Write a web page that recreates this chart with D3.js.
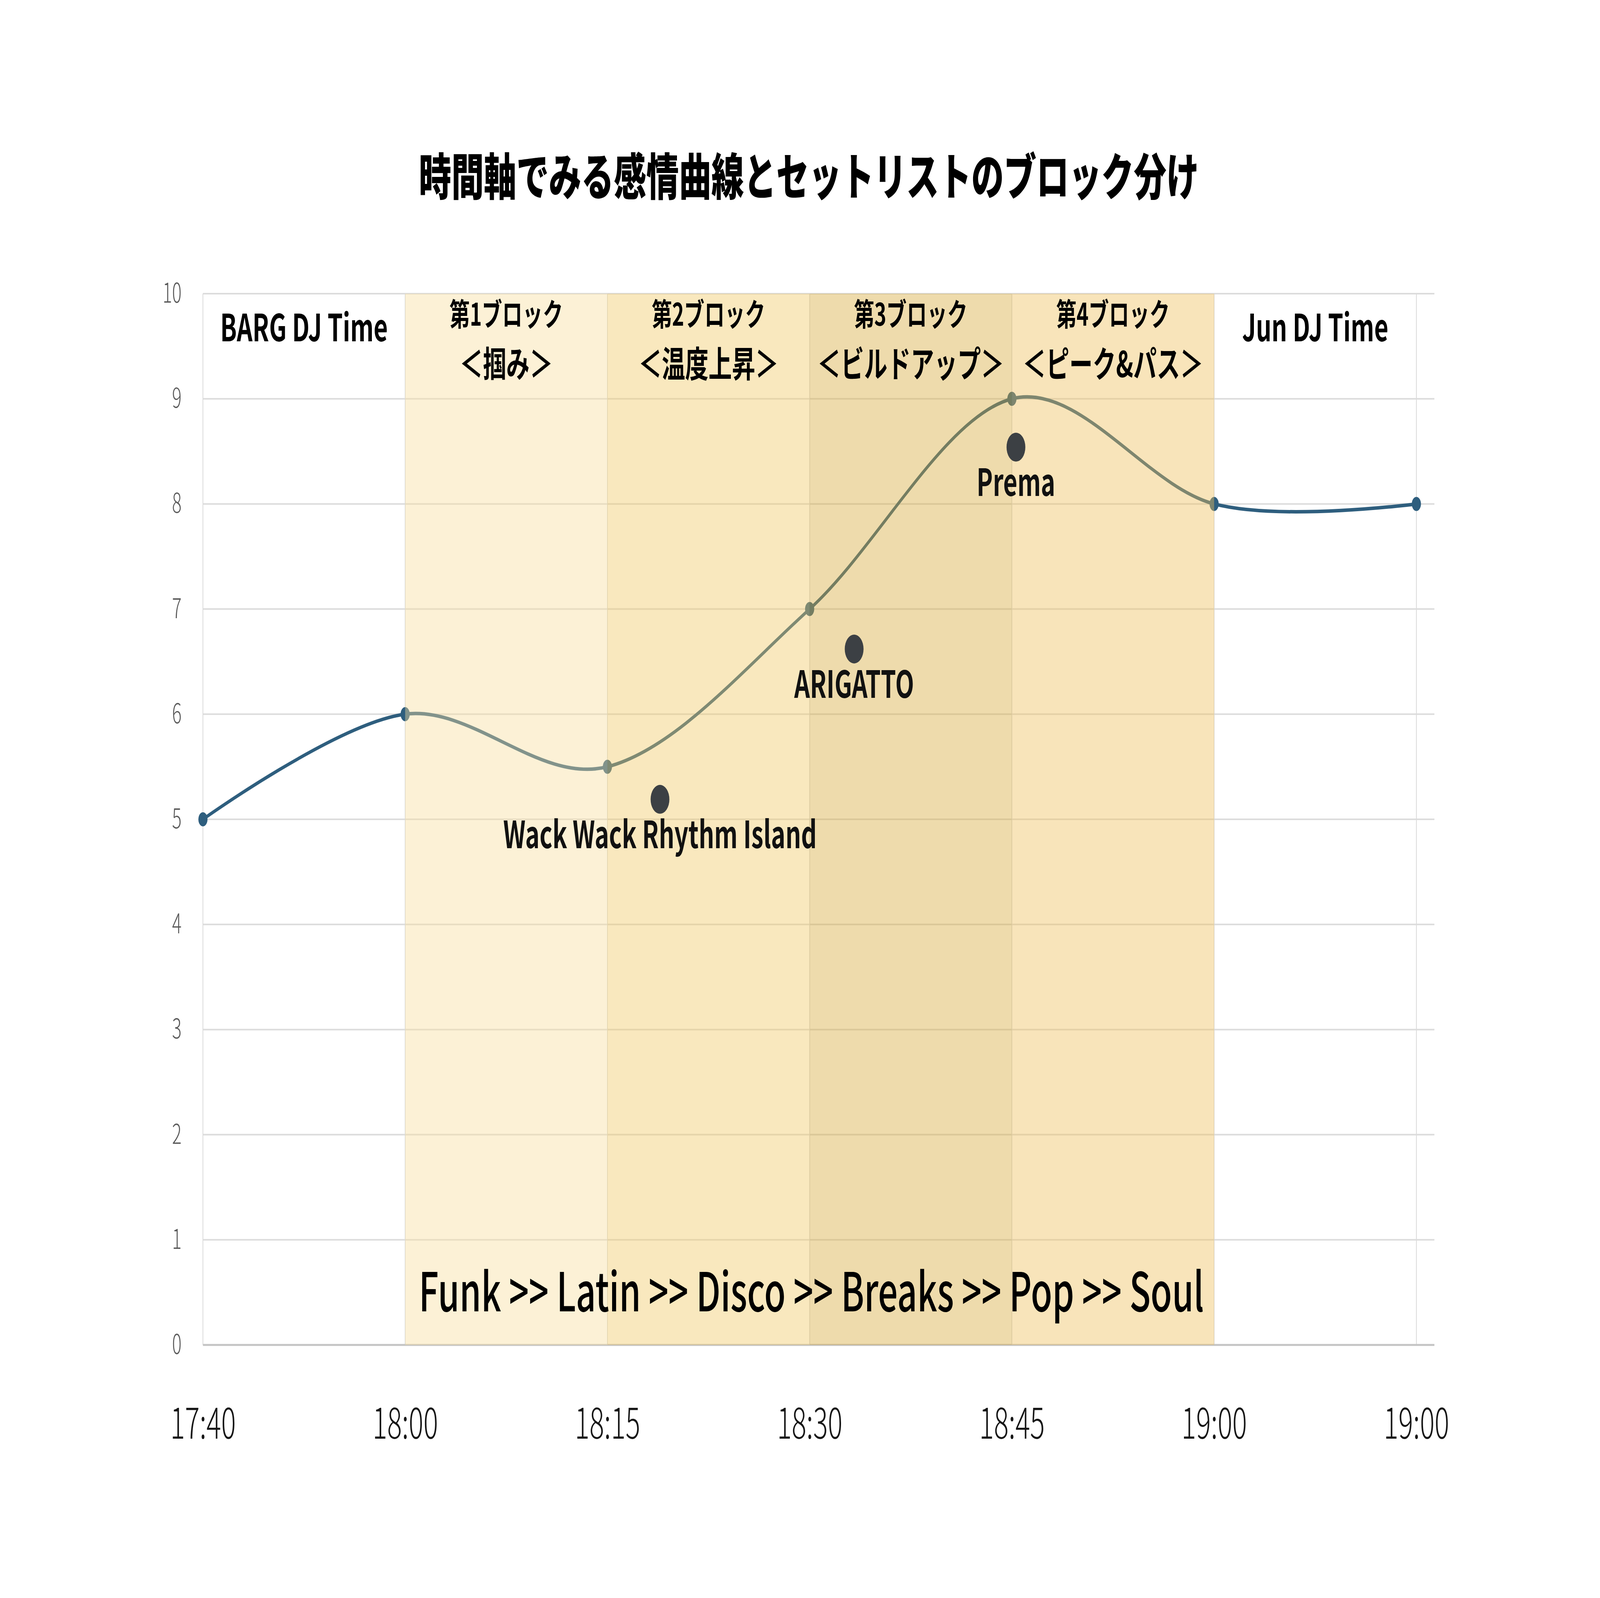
<!DOCTYPE html>
<html lang="ja">
<head>
  <meta charset="UTF-8" />
  <title>時間軸でみる感情曲線とセットリストのブロック分け</title>
  <style>
    body {
      margin: 0;
      overflow: hidden;
      background-color: #ffffff;
      font-family: "Noto Sans CJK JP", "Noto Sans", sans-serif;
    }

    svg {
      display: block;
      background-color: #ffffff;
    }

    .grid {
      stroke: #dcdcdc;
      stroke-width: 4;
    }

    .vgrid {
      stroke: #dadada;
      stroke-width: 3;
    }

    .baseline {
      stroke: #c4c4c4;
      stroke-width: 5;
    }

    .ytick {
      fill: #5a5a5a;
      font-size: 70px;
      font-weight: 300;
    }

    .xtick {
      fill: #161616;
      font-size: 108px;
      font-weight: 300;
    }

    .head {
      fill: #000;
      font-weight: 700;
    }

    .song-label {
      fill: #111;
      font-size: 96px;
      font-weight: 700;
    }
  </style>
</head>

<body>
  <svg></svg>

  <script src="https://d3js.org/d3.v7.min.js"></script>
  <script>
    // ---- data ----
    const times = ["17:40", "18:00", "18:15", "18:30", "18:45", "19:00", "19:00"];
    const emotion = [5, 6, 5.5, 7, 9, 8, 8];

    // sections between time slots (index of start / end time)
    const sectionStart = [0, 1, 2, 3, 4, 5];
    const sectionEnd = [1, 2, 3, 4, 5, 6];
    const sectionTop = ["", "第1ブロック", "第2ブロック", "第3ブロック", "第4ブロック", ""];
    const sectionMain = ["BARG DJ Time", "＜掴み＞", "＜温度上昇＞", "＜ビルドアップ＞", "＜ピーク&パス＞", "Jun DJ Time"];

    // highlighted songs (position in time-slot units)
    const songs = ["Wack Wack Rhythm Island", "ARIGATTO", "Prema"];
    const songAt = [2.26, 3.22, 4.02];
    const songScore = [5.19, 6.62, 8.54];

    const genres = ["Funk", "Latin", "Disco", "Breaks", "Pop", "Soul"];
    const yTicks = [0, 1, 2, 3, 4, 5, 6, 7, 8, 9, 10];

    // ---- layout (drawn in 6300x4092 units, stretched to the window) ----
    const W = 6300, H = 4092;
    const svg = d3.select("svg")
      .attr("viewBox", `0 0 ${W} ${H}`)
      .attr("preserveAspectRatio", "none")
      .attr("width", window.innerWidth)
      .attr("height", window.innerHeight);

    const plotLeft = 799;
    const plotRight = 5648;
    const plotTop = 752;
    const plotBottom = 3444;

    const x = d3.scaleLinear().domain([0, times.length - 1]).range([plotLeft, 5577]);
    const y = d3.scaleLinear().domain([0, 10]).range([plotBottom, plotTop]);

    // translucent block colours (laid over the line, like the original)
    const bandFill = [null, "#f7dd9d", "#f0c864", "#d6a939", "#eebe5a", null];
    const bandOpacity = 0.42;

    // title
    svg.append("text")
      .attr("x", 3185)
      .attr("y", 500)
      .attr("text-anchor", "middle")
      .style("font-size", "128px")
      .style("font-weight", 900)
      .text("時間軸でみる感情曲線とセットリストのブロック分け");

    // horizontal grid
    svg.append("g")
      .selectAll("line")
      .data(yTicks.filter(d => d > 0))
      .enter()
      .append("line")
      .attr("class", "grid")
      .attr("x1", plotLeft)
      .attr("x2", plotRight)
      .attr("y1", d => y(d))
      .attr("y2", d => y(d));

    // vertical grid at each time slot
    svg.append("g")
      .selectAll("line")
      .data(times.map((t, i) => i))
      .enter()
      .append("line")
      .attr("class", "vgrid")
      .attr("x1", d => x(d))
      .attr("x2", d => x(d))
      .attr("y1", plotTop)
      .attr("y2", plotBottom);

    svg.append("line")
      .attr("class", "baseline")
      .attr("x1", plotLeft)
      .attr("x2", plotRight)
      .attr("y1", y(0))
      .attr("y2", y(0));

    // y axis labels
    const yAxis = d3.axisLeft(y).tickValues(yTicks).tickSize(0).tickPadding(84);
    const gy = svg.append("g").attr("transform", `translate(${plotLeft},0)`).call(yAxis);
    gy.attr("font-family", null).attr("font-size", null);
    gy.select(".domain").remove();
    gy.selectAll("text").attr("class", "ytick");

    // x axis labels (duplicate labels, so index based)
    const xAxis = d3.axisBottom(x)
      .tickValues(times.map((t, i) => i))
      .tickFormat(i => times[i])
      .tickSize(0)
      .tickPadding(0);
    const gx = svg.append("g").attr("transform", "translate(0,3684)").call(xAxis);
    gx.attr("font-family", null).attr("font-size", null);
    gx.select(".domain").remove();
    gx.selectAll("text")
      .attr("class", "xtick")
      .attr("dy", 0)
      .attr("y", 0);

    // emotion curve
    const line = d3.line()
      .x((d, i) => x(i))
      .y(d => y(d))
      .curve(d3.curveCardinal.tension(0));

    svg.append("path")
      .datum(emotion)
      .attr("d", line)
      .attr("fill", "none")
      .attr("stroke", "#2e5e7e")
      .attr("stroke-width", 9);

    svg.append("g")
      .selectAll("circle")
      .data(emotion)
      .enter()
      .append("circle")
      .attr("cx", (d, i) => x(i))
      .attr("cy", d => y(d))
      .attr("r", 18)
      .attr("fill", "#2e5e7e");

    // block bands over the curve
    sectionStart.forEach((s, i) => {
      if (!bandFill[i]) return;
      svg.append("rect")
        .attr("x", x(s))
        .attr("y", plotTop)
        .attr("width", x(sectionEnd[i]) - x(s))
        .attr("height", plotBottom - plotTop)
        .attr("fill", bandFill[i])
        .attr("fill-opacity", bandOpacity);
    });

    // block headings
    sectionStart.forEach((s, i) => {
      const cx = (x(s) + x(sectionEnd[i])) / 2;
      if (sectionTop[i]) {
        svg.append("text")
          .attr("class", "head")
          .attr("x", cx)
          .attr("y", 834)
          .attr("text-anchor", "middle")
          .style("font-size", "80px")
          .text(sectionTop[i]);
        svg.append("text")
          .attr("class", "head")
          .attr("x", cx)
          .attr("y", 966)
          .attr("text-anchor", "middle")
          .style("font-size", "92px")
          .text(sectionMain[i]);
      } else {
        svg.append("text")
          .attr("class", "head")
          .attr("x", cx)
          .attr("y", 874)
          .attr("text-anchor", "middle")
          .style("font-size", "96px")
          .text(sectionMain[i]);
      }
    });

    // songs
    const songGroup = svg.append("g")
      .selectAll("g")
      .data(songs)
      .enter()
      .append("g")
      .attr("transform", (d, i) => `translate(${x(songAt[i])},${y(songScore[i])})`);

    songGroup.append("circle")
      .attr("r", 37)
      .attr("fill", "#3c4044");

    songGroup.append("text")
      .attr("class", "song-label")
      .attr("y", 125)
      .attr("text-anchor", "middle")
      .text(d => d);

    // genre flow
    svg.append("text")
      .attr("x", 3195)
      .attr("y", 3358)
      .attr("text-anchor", "middle")
      .style("font-size", "137px")
      .style("font-weight", 500)
      .text(genres.join(" >> "));
  </script>

</body>
</html>
